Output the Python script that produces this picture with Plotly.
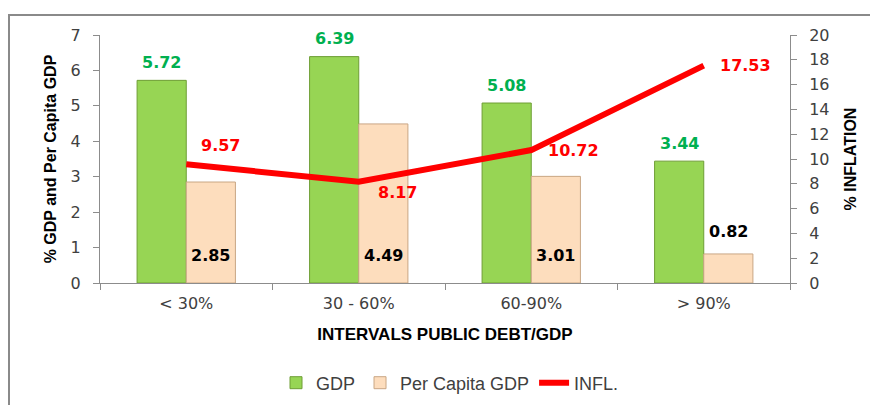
import plotly.graph_objects as go

categories = ["< 30%", "30 - 60%", "60-90%", "> 90%"]
gdp = [5.72, 6.39, 5.08, 3.44]
per_capita_gdp = [2.85, 4.49, 3.01, 0.82]
inflation = [9.57, 8.17, 10.72, 17.53]

left_ticks = [0, 1, 2, 3, 4, 5, 6, 7]
right_ticks = [0, 2, 4, 6, 8, 10, 12, 14, 16, 18, 20]

# label placement offsets (pixels)
infl_label_shift = [(34, 19), (39, -11), (42, 0), (42, 0)]

# page has an 8px body margin, so the figure is offset by 8px
OFF = 8
W, H = 878 - OFF, 405 - OFF
ML, MT = 100 - OFF, 35 - OFF
MR = W - (790 - OFF)
MB = H - (283 - OFF)
pw, ph = W - ML - MR, H - MT - MB
half_bar = 24.5

fig = go.Figure()

fig.add_trace(go.Bar(
    name="GDP", x=categories, y=gdp,
    marker=dict(color="#97D554", line=dict(color="#6E9E35", width=1)),
))
fig.add_trace(go.Bar(
    name="Per Capita GDP", x=categories, y=per_capita_gdp,
    marker=dict(color="#FDDDBD", line=dict(color="#C9A684", width=1)),
))
fig.add_trace(go.Scatter(
    name="INFL.", x=categories, y=inflation, yaxis="y2",
    mode="lines",
    line=dict(color="#FF0000", width=6),
    cliponaxis=False,
))

lbl = dict(family="DejaVu Sans", size=16, weight="bold")
annotations = []
for c, v in zip(categories, gdp):
    annotations.append(dict(x=c, y=v, xref="x", yref="y", text=f"{v:.2f}",
                            showarrow=False, xshift=-half_bar, yshift=18,
                            font=dict(lbl, color="#00B050")))
for c, v in zip(categories, per_capita_gdp):
    inside = v > 2
    annotations.append(dict(x=c, y=0 if inside else v, xref="x", yref="y",
                            text=f"{v:.2f}", showarrow=False, xshift=half_bar,
                            yshift=28 if inside else 22,
                            font=dict(lbl, color="#000000")))
for (c, v), (dx, dy) in zip(zip(categories, inflation), infl_label_shift):
    annotations.append(dict(x=c, y=v, xref="x", yref="y2", text=f"{v:.2f}",
                            showarrow=False, xshift=dx, yshift=dy,
                            font=dict(lbl, color="#FF0000")))

axis_font = dict(family="DejaVu Sans", size=16, color="#404040")

fig.update_layout(
    width=W, height=H,
    margin=dict(l=ML, r=MR, t=MT, b=MB, autoexpand=False),
    paper_bgcolor="white", plot_bgcolor="white",
    barmode="group", bargap=0.43, bargroupgap=0,
    showlegend=True,
    legend=dict(orientation="h", x=(450 - 100) / pw, xanchor="center",
                y=-(383 - 283) / ph, yanchor="middle",
                font=dict(family="Liberation Sans", size=18, color="#404040"),
                traceorder="normal"),
    xaxis=dict(
        showline=True, linecolor="#8C8C8C", linewidth=1, automargin=False,
        ticks="outside", tickson="boundaries", ticklen=6, tickcolor="#8C8C8C",
        tickfont=axis_font, showgrid=False, ticklabelstandoff=6,
        title=dict(text="<b>INTERVALS PUBLIC DEBT/GDP</b>",
                   font=dict(family="Liberation Sans", size=17, color="#000000"), standoff=15),
    ),
    yaxis=dict(
        range=[0, 7], tickvals=left_ticks, showline=True, linecolor="#8C8C8C",
        ticks="outside", ticklen=6, tickcolor="#8C8C8C", tickfont=axis_font,
        showgrid=False, zeroline=False, automargin=False, ticklabelstandoff=9,
        title=dict(text="<b>% GDP and Per Capita GDP</b>",
                   font=dict(family="Liberation Sans", size=16, color="#000000"), standoff=10),
    ),
    yaxis2=dict(
        range=[0, 20], tickvals=right_ticks, overlaying="y", side="right",
        showline=True, linecolor="#8C8C8C", ticks="outside", ticklen=6,
        tickcolor="#8C8C8C", tickfont=axis_font, showgrid=False, zeroline=False,
        automargin=False, ticklabelstandoff=9,
        title=dict(text="<b>% INFLATION</b>",
                   font=dict(family="Liberation Sans", size=16, color="#000000"), standoff=16),
    ),
    annotations=annotations,
    shapes=[dict(
        type="rect", xref="paper", yref="paper",
        x0=(9 - 100) / pw, x1=(W + 20 - ML) / pw,
        y0=-(H + 20 - (MT + ph)) / ph, y1=1 + (35 - 15) / ph,
        line=dict(color="#8A8A8A", width=2), fillcolor="rgba(0,0,0,0)", layer="below",
    )],
)

fig.write_html("out.html")
